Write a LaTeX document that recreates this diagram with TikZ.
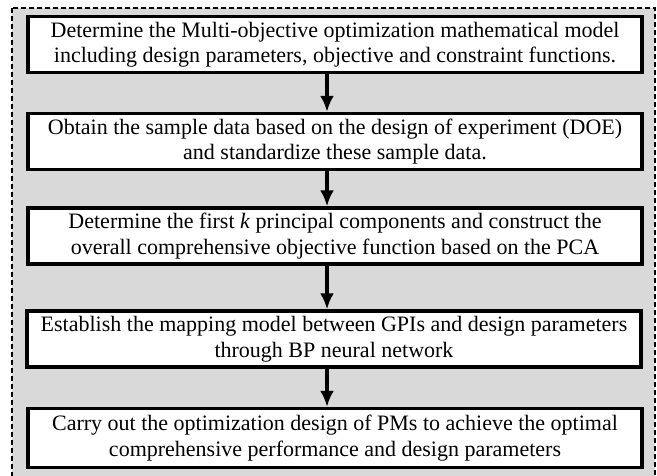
\documentclass[tikz,border=0pt]{standalone}
\usepackage{fontspec}
\setmainfont{Liberation Serif}
\usepackage{tikz}
\usetikzlibrary{arrows.meta}

\begin{document}
\begin{tikzpicture}
		[x=1pt, y=-1pt, thick,
		box/.style={draw, line width=3.4pt, fill=white, minimum width=614pt, minimum height=56pt, inner sep=0pt, align=center, font=\fontsize{22}{25.5}\selectfont},
		flow/.style={line width=3.4pt, -{Latex[length=16pt, width=14pt]}}]
		\useasboundingbox (0,0) rectangle (657,476);
		\clip (0,0) rectangle (657,476);
		% background frame
		\draw[fill=black!15, line width=1.4pt, dash pattern=on 5pt off 3pt] (12,8) rectangle (655,500);
		
		\node [box](b1) at (335,44.5) {Determine the Multi-objective optimization mathematical model\\including design parameters, objective and constraint functions.};
		\node [box](b2) at (335,141.5) {Obtain the sample data based on the design of experiment (DOE)\\and standardize these sample data.};
		\node [box](b3) at (335,236) {Determine the first \textit{k} principal components and construct the\\overall comprehensive objective function based on the PCA};
		\node [box](b4) at (334,339) {Establish the mapping model between GPIs and design parameters\\through BP neural network};
		\node [box, minimum height=59pt](b5) at (335,438) {Carry out the optimization design of PMs to achieve the optimal\\comprehensive performance and design parameters};
		
		\foreach \from/\to in {b1/b2, b2/b3, b3/b4, b4/b5}
		\draw [flow] (\from.south -| 327,0) -- (\to.north -| 327,0);
		\end{tikzpicture}
\end{document}
